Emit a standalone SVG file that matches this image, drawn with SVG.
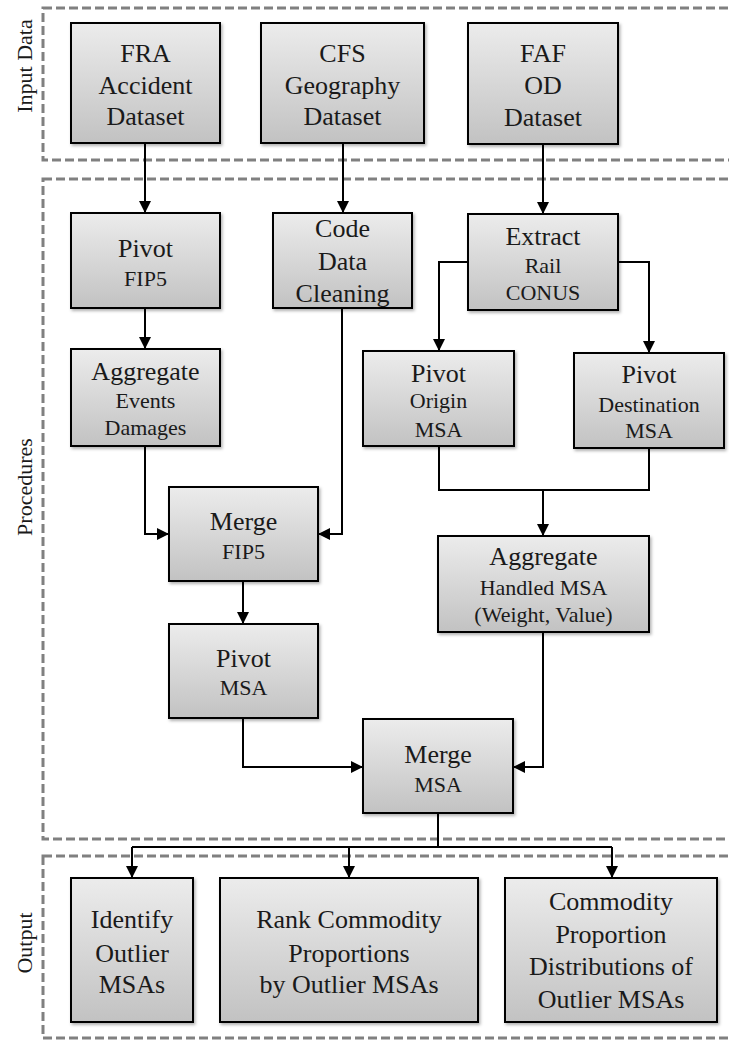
<svg xmlns="http://www.w3.org/2000/svg" width="729" height="1040" viewBox="0 0 729 1040">
<defs>
<linearGradient id="g" x1="0" y1="0" x2="0" y2="1">
<stop offset="0" stop-color="#ececec"/>
<stop offset="1" stop-color="#c2c2c2"/>
</linearGradient>
<filter id="sh" x="-10%" y="-10%" width="125%" height="125%">
<feDropShadow dx="1.5" dy="2" stdDeviation="1.5" flood-color="#000" flood-opacity="0.3"/>
</filter>
<marker id="ah" viewBox="0 0 12 12" refX="12" refY="6" markerWidth="12" markerHeight="12" markerUnits="userSpaceOnUse" orient="auto">
<path d="M0,0 L12,6 L0,12 Z" fill="#000"/>
</marker>
<style>
.box{fill:url(#g);stroke:#000;stroke-width:2;filter:url(#sh)}
.dash{fill:none;stroke:#808080;stroke-width:3;stroke-dasharray:9 4}
text{font-family:'Liberation Serif','Times New Roman',Tinos,'DejaVu Serif',serif}
.t{font-size:26px;fill:#1a1a1a;text-anchor:middle}
.s{font-size:22px}
.lab{font-size:22px;fill:#1a1a1a;text-anchor:middle}
.c{fill:none;stroke:#000;stroke-width:2}
</style>
</defs>
<rect width="729" height="1040" fill="#fff"/>
<g id="regions">
<rect class="dash" x="43" y="8" width="700" height="152"/>
<rect class="dash" x="43" y="179" width="700" height="660"/>
<rect class="dash" x="43" y="856" width="700" height="182"/>
<text class="lab" transform="translate(32,66) rotate(-90)">Input Data</text>
<text class="lab" transform="translate(32,487) rotate(-90)">Procedures</text>
<text class="lab" transform="translate(32,943) rotate(-90)">Output</text>
</g>
<g id="connectors">
<path class="c" d="M145,143 V213" marker-end="url(#ah)"/>
<path class="c" d="M343,143 V213" marker-end="url(#ah)"/>
<path class="c" d="M543,143 V214" marker-end="url(#ah)"/>
<path class="c" d="M145,308 V349" marker-end="url(#ah)"/>
<path class="c" d="M468,262 H439 V351" marker-end="url(#ah)"/>
<path class="c" d="M618,262 H649 V353" marker-end="url(#ah)"/>
<path class="c" d="M145,446 V534 H169" marker-end="url(#ah)"/>
<path class="c" d="M342,308 V534 H318" marker-end="url(#ah)"/>
<path class="c" d="M439,446 V490 H649 V448"/>
<path class="c" d="M543,490 V536" marker-end="url(#ah)"/>
<path class="c" d="M243,581 V624" marker-end="url(#ah)"/>
<path class="c" d="M243,718 V767 H363" marker-end="url(#ah)"/>
<path class="c" d="M543,632 V767 H513" marker-end="url(#ah)"/>
<path class="c" d="M438,813 V847 M132,847 H612"/>
<path class="c" d="M132,847 V878" marker-end="url(#ah)"/>
<path class="c" d="M349,847 V878" marker-end="url(#ah)"/>
<path class="c" d="M612,847 V878" marker-end="url(#ah)"/>
</g>
<g id="fra">
<rect class="box" x="71" y="23" width="149" height="120"/>
<text class="t" x="145.5" y="62">FRA</text>
<text class="t" x="145.5" y="94">Accident</text>
<text class="t" x="145.5" y="125">Dataset</text>
</g>
<g id="cfs">
<rect class="box" x="261" y="23" width="163" height="120"/>
<text class="t" x="342.5" y="62">CFS</text>
<text class="t" x="342.5" y="94">Geography</text>
<text class="t" x="342.5" y="125">Dataset</text>
</g>
<g id="faf">
<rect class="box" x="468" y="23" width="150" height="121"/>
<text class="t" x="543" y="62">FAF</text>
<text class="t" x="543" y="94">OD</text>
<text class="t" x="543" y="126">Dataset</text>
</g>
<g id="pivot-fip5">
<rect class="box" x="71" y="213" width="149" height="95"/>
<text class="t" x="145.5" y="257">Pivot</text>
<text class="t s" x="145.5" y="286">FIP5</text>
</g>
<g id="code-cleaning">
<rect class="box" x="273" y="213" width="139" height="95"/>
<text class="t" x="342.5" y="237">Code</text>
<text class="t" x="342.5" y="270">Data</text>
<text class="t" x="342.5" y="302">Cleaning</text>
</g>
<g id="extract">
<rect class="box" x="468" y="214" width="150" height="96"/>
<text class="t" x="543" y="245">Extract</text>
<text class="t s" x="543" y="273">Rail</text>
<text class="t s" x="543" y="300">CONUS</text>
</g>
<g id="aggregate-events">
<rect class="box" x="71" y="349" width="149" height="97"/>
<text class="t" x="145.5" y="380">Aggregate</text>
<text class="t s" x="145.5" y="408">Events</text>
<text class="t s" x="145.5" y="435">Damages</text>
</g>
<g id="pivot-origin">
<rect class="box" x="363" y="351" width="151" height="95"/>
<text class="t" x="438.5" y="382">Pivot</text>
<text class="t s" x="438.5" y="408">Origin</text>
<text class="t s" x="438.5" y="437">MSA</text>
</g>
<g id="pivot-destination">
<rect class="box" x="574" y="353" width="150" height="95"/>
<text class="t" x="649" y="383">Pivot</text>
<text class="t s" x="649" y="412">Destination</text>
<text class="t s" x="649" y="438">MSA</text>
</g>
<g id="merge-fip5">
<rect class="box" x="169" y="487" width="149" height="94"/>
<text class="t" x="243.5" y="530">Merge</text>
<text class="t s" x="243.5" y="559">FIP5</text>
</g>
<g id="aggregate-handled">
<rect class="box" x="438" y="536" width="211" height="96"/>
<text class="t" x="543.5" y="565">Aggregate</text>
<text class="t s" x="543.5" y="595">Handled MSA</text>
<text class="t s" x="543.5" y="622">(Weight, Value)</text>
</g>
<g id="pivot-msa">
<rect class="box" x="169" y="624" width="149" height="94"/>
<text class="t" x="243.5" y="667">Pivot</text>
<text class="t s" x="243.5" y="695">MSA</text>
</g>
<g id="merge-msa">
<rect class="box" x="363" y="719" width="150" height="94"/>
<text class="t" x="438" y="763">Merge</text>
<text class="t s" x="438" y="792">MSA</text>
</g>
<g id="identify">
<rect class="box" x="71" y="878" width="122" height="144"/>
<text class="t" x="132" y="928">Identify</text>
<text class="t" x="132" y="962">Outlier</text>
<text class="t" x="132" y="993">MSAs</text>
</g>
<g id="rank">
<rect class="box" x="220" y="878" width="258" height="144"/>
<text class="t" x="349" y="928">Rank Commodity</text>
<text class="t" x="349" y="962">Proportions</text>
<text class="t" x="349" y="993">by Outlier MSAs</text>
</g>
<g id="distributions">
<rect class="box" x="505" y="878" width="212" height="144"/>
<text class="t" x="611" y="910">Commodity</text>
<text class="t" x="611" y="943">Proportion</text>
<text class="t" x="611" y="975">Distributions of</text>
<text class="t" x="611" y="1008">Outlier MSAs</text>
</g>
</svg>
